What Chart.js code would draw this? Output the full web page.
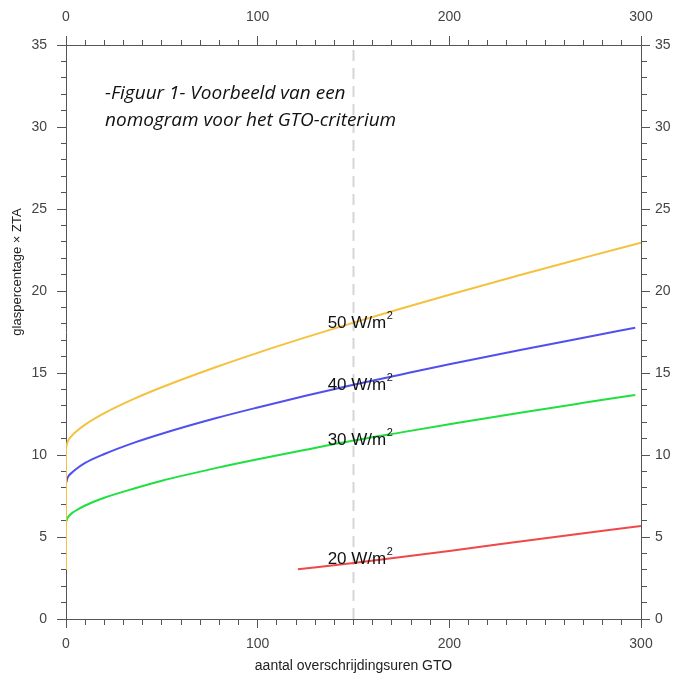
<!DOCTYPE html>
<html>
<head>
<meta charset="utf-8">
<script src="https://cdn.jsdelivr.net/npm/chart.js@4.4.1/dist/chart.umd.min.js"></script>
<style>
    html, body { margin: 0; padding: 0; background: #fff; }
    #wrap { width: 680px; height: 675px; position: relative; }
</style>
</head>
<body>
<div id="wrap"><canvas id="nomogram"></canvas></div>
<script>
// hours of overschrijding (x) and glaspercentage x ZTA (y)
const hours50 = [0, 1, 3, 5, 10, 20, 36, 50, 78, 100, 125, 150, 175, 200, 237, 270, 300];
const glas50 = [10.45, 10.85, 11.17, 11.4, 11.85, 12.55, 13.45, 14.13, 15.35, 16.23, 17.17, 18.07, 18.93, 19.77, 20.98, 22.02, 22.95];

const stemHours = [0, 0];
const stemGlas = [3.0, 10.45];

const hours40 = [0, 1, 3, 5, 10, 20, 36, 50, 78, 100, 125, 150, 175, 200, 237, 270, 297];
const glas40 = [8.3, 8.65, 8.92, 9.12, 9.52, 10.06, 10.77, 11.3, 12.24, 12.9, 13.61, 14.28, 14.91, 15.53, 16.4, 17.15, 17.76];

const hours30 = [0, 1, 3, 5, 10, 20, 36, 50, 78, 100, 125, 150, 175, 200, 237, 270, 297];
const glas30 = [5.9, 6.2, 6.44, 6.6, 6.92, 7.39, 7.97, 8.43, 9.2, 9.74, 10.32, 10.88, 11.38, 11.87, 12.58, 13.18, 13.66];

const hours20 = [121, 150, 200, 250, 300];
const glas20 = [3.03, 3.42, 4.15, 4.93, 5.67];

const refHours = [150, 150];
const refGlas = [0, 35];

// curve labels
const curveLabels = ['50 W/m', '40 W/m', '30 W/m', '20 W/m'];
const curveLabelX = [136.5, 136.5, 136.5, 136.5];
const curveLabelY = [18.05, 14.27, 10.9, 3.64];

const xMajor = 100, xMinor = 10, xMin = 0, xMax = 300;
const yMajor = 5, yMinor = 1, yMin = 0, yMax = 35;

const titleLines = ['-Figuur 1- Voorbeeld van een', 'nomogram voor het GTO-criterium'];
const xTitle = 'aantal overschrijdingsuren GTO';
const yTitle = 'glaspercentage \u00d7 ZTA';

function pts(xs, ys) {
    return xs.map((x, i) => ({ x: x, y: ys[i] }));
}

function curve(data, color) {
    return {
        data: data,
        borderColor: color,
        borderWidth: 2,
        pointRadius: 0,
        cubicInterpolationMode: 'monotone',
        fill: false
    };
}

const tickColor = '#555';
const labelColor = '#444';

function axisTicks(major, minorDash) {
    return {
        drawOnChartArea: false,
        drawTicks: true,
        tickLength: 9,
        tickColor: tickColor,
        tickWidth: 1,
        tickBorderDash: (c) => (Math.abs(c.tick.value % major) < 1e-6 ? [] : minorDash)
    };
}

const tickFont = { family: 'Liberation Sans, Arial, sans-serif', size: 14 };

const textPlugin = {
    id: 'nomogramText',
    afterDatasetsDraw(chart) {
        const ctx = chart.ctx;
        const xs = chart.scales.x;
        const ys = chart.scales.y;
        ctx.save();

        // curve labels with superscript 2
        ctx.fillStyle = '#111';
        ctx.textBaseline = 'middle';
        curveLabels.forEach((txt, i) => {
            const px = xs.getPixelForValue(curveLabelX[i]);
            const py = ys.getPixelForValue(curveLabelY[i]);
            ctx.font = '17px "Liberation Sans", Arial, sans-serif';
            ctx.textAlign = 'left';
            ctx.fillText(txt, px, py);
            const w = ctx.measureText(txt).width;
            ctx.font = '11px "Liberation Sans", Arial, sans-serif';
            ctx.fillText('2', px + w + 0.5, py - 7);
        });

        // italic caption
        ctx.fillStyle = '#111';
        ctx.textBaseline = 'alphabetic';
        ctx.font = 'italic 19px "Open Sans", sans-serif';
        ctx.fillText(titleLines[0], chart.chartArea.left + 39, chart.chartArea.top + 54);
        ctx.fillText(titleLines[1], chart.chartArea.left + 39, chart.chartArea.top + 81);

        // y axis title
        ctx.translate(17, 272);
        ctx.rotate(-Math.PI / 2);
        ctx.textAlign = 'center';
        ctx.textBaseline = 'middle';
        ctx.fillStyle = '#222';
        ctx.font = '13px "Liberation Sans", Arial, sans-serif';
        ctx.fillText(yTitle, 0, 0);
        ctx.restore();
    }
};

new Chart(document.getElementById('nomogram'), {
    type: 'line',
    data: {
        datasets: [
            curve(pts(stemHours, stemGlas), '#f5c23e'),
            curve(pts(hours50, glas50), '#f5c23e'),
            curve(pts(hours40, glas40), '#5050ee'),
            curve(pts(hours30, glas30), '#20e040'),
            curve(pts(hours20, glas20), '#f04848'),
            {
                data: pts(refHours, refGlas),
                borderColor: '#d6d6d6',
                borderWidth: 2,
                borderDash: [11, 7],
                pointRadius: 0
            }
        ]
    },
    options: {
        responsive: true,
        maintainAspectRatio: false,
        animation: false,
        layout: { padding: 0 },
        plugins: { legend: { display: false }, tooltip: { enabled: false } },
        scales: {
            x: {
                type: 'linear', position: 'bottom', min: xMin, max: xMax,
                afterFit: (s) => { s.height = 56; },
                ticks: {
                    stepSize: xMinor, autoSkip: false, maxRotation: 0, padding: 8,
                    color: labelColor, font: tickFont,
                    callback: (v) => (v % xMajor === 0 ? v : '')
                },
                grid: axisTicks(xMajor, [5, 20]),
                border: { display: true, color: tickColor, width: 1 },
                title: {
                    display: true, text: xTitle, color: '#222',
                    font: { family: 'Liberation Sans, Arial, sans-serif', size: 14 },
                    padding: { top: 0, bottom: 0 }
                }
            },
            x2: {
                type: 'linear', position: 'top', min: xMin, max: xMax,
                afterFit: (s) => { s.height = 45; },
                ticks: {
                    stepSize: xMinor, autoSkip: false, maxRotation: 0, padding: 10,
                    color: labelColor, font: tickFont,
                    callback: (v) => (v % xMajor === 0 ? v : '')
                },
                grid: axisTicks(xMajor, [0, 4, 5, 20]),
                border: { display: true, color: tickColor, width: 1 }
            },
            y: {
                type: 'linear', position: 'left', min: yMin, max: yMax,
                afterFit: (s) => { s.width = 66; },
                ticks: {
                    stepSize: yMinor, autoSkip: false, padding: 10,
                    color: labelColor, font: tickFont,
                    callback: (v) => (v % yMajor === 0 ? v : '')
                },
                grid: axisTicks(yMajor, [0, 4, 5, 20]),
                border: { display: true, color: tickColor, width: 1 }
            },
            y2: {
                type: 'linear', position: 'right', min: yMin, max: yMax,
                afterFit: (s) => { s.width = 39; },
                ticks: {
                    stepSize: yMinor, autoSkip: false, padding: 5,
                    color: labelColor, font: tickFont,
                    callback: (v) => (v % yMajor === 0 ? v : '')
                },
                grid: axisTicks(yMajor, [5, 20]),
                border: { display: true, color: tickColor, width: 1 }
            }
        }
    },
    plugins: [textPlugin]
});
</script>
</body>
</html>
